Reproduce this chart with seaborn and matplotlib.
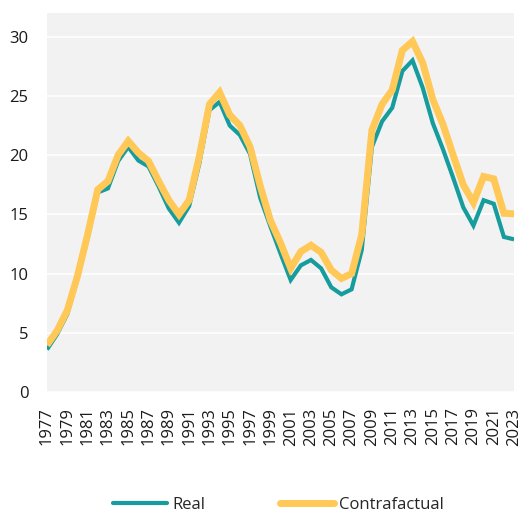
import numpy as np
import pandas as pd
import matplotlib
matplotlib.use("Agg")
import matplotlib.pyplot as plt
import seaborn as sns
from matplotlib.lines import Line2D

years = list(range(1977, 2024))
real = [3.6, 4.9, 6.6, 9.6, 13.0, 16.85, 17.2, 19.5, 20.7, 19.55,
        19.05, 17.35, 15.5, 14.3, 15.7, 19.3, 23.8, 24.5, 22.5, 21.7,
        20.1, 16.4, 14.0, 11.7, 9.47, 10.7, 11.16, 10.45, 8.85, 8.26,
        8.68, 12.0, 20.7, 22.85, 24.0, 27.1, 28.0, 25.7, 22.7, 20.5,
        18.1, 15.6, 14.06, 16.2, 15.9, 13.1, 12.9]
contra = [3.97, 5.2, 6.9, 9.8, 13.3, 17.1, 17.8, 20.0, 21.2, 20.2,
          19.5, 17.8, 16.2, 15.0, 16.2, 19.9, 24.3, 25.3, 23.4, 22.5,
          20.7, 17.4, 14.5, 12.6, 10.45, 11.86, 12.4, 11.8, 10.3, 9.6,
          10.0, 13.3, 22.1, 24.3, 25.5, 28.85, 29.6, 27.8, 24.7, 22.6,
          20.0, 17.5, 16.0, 18.2, 18.0, 15.1, 15.05]
series_names = ["Real", "Contrafactual"]
yticks = [0, 5, 10, 15, 20, 25, 30]

df = pd.DataFrame({
    "year": years * 2,
    "value": real + contra,
    "serie": [series_names[0]] * len(years) + [series_names[1]] * len(years),
})

sns.set_theme(style="whitegrid", rc={
    "axes.facecolor": "#f2f2f2",
    "grid.color": "white",
    "grid.linewidth": 1.2,
    "axes.edgecolor": "#f2f2f2",
})
plt.rcParams["font.family"] = ["Open Sans", "DejaVu Sans"]

fig = plt.figure(figsize=(5.24, 5.14), dpi=100)
ax = fig.add_axes([0.0897, 0.237, 0.8913, 0.7377])

palette = {"Real": "#169c9c", "Contrafactual": "#ffc857"}
sns.lineplot(data=df, x="year", y="value", hue="serie", hue_order=series_names,
             palette=palette, ax=ax, legend=False, sort=True)
lines = ax.get_lines()
lines[0].set_linewidth(3.0)
lines[1].set_linewidth(5.0)
for ln in lines:
    ln.set_solid_capstyle("butt")
    ln.set_solid_joinstyle("miter")

ax.set_xlim(1977, 2023)
ax.set_ylim(0, 32)
ax.set_yticks(yticks)
ax.set_xticks(list(range(1977, 2024, 2)))
ax.set_xticklabels([str(y) for y in range(1977, 2024, 2)], rotation=90)
ax.grid(axis="x", visible=False)
ax.grid(axis="y", visible=True)
ax.tick_params(axis="both", labelsize=12, colors="#1a1a1a", length=0)
ax.tick_params(axis="y", pad=13.5)
ax.tick_params(axis="x", pad=11)
ax.set_xlabel("")
ax.set_ylabel("")
for s in ax.spines.values():
    s.set_visible(False)

handles = [Line2D([0], [0], color=palette["Real"], lw=3.0, solid_capstyle="round"),
           Line2D([0], [0], color=palette["Contrafactual"], lw=5.0, solid_capstyle="round")]
fig.legend(handles, series_names, loc="center", bbox_to_anchor=(0.532, 0.0175),
           ncol=2, frameon=False, fontsize=12, handlelength=3.24,
           handletextpad=0.3, columnspacing=4.5, borderpad=0.2)

fig.savefig("out.png", dpi=100, facecolor="white")
